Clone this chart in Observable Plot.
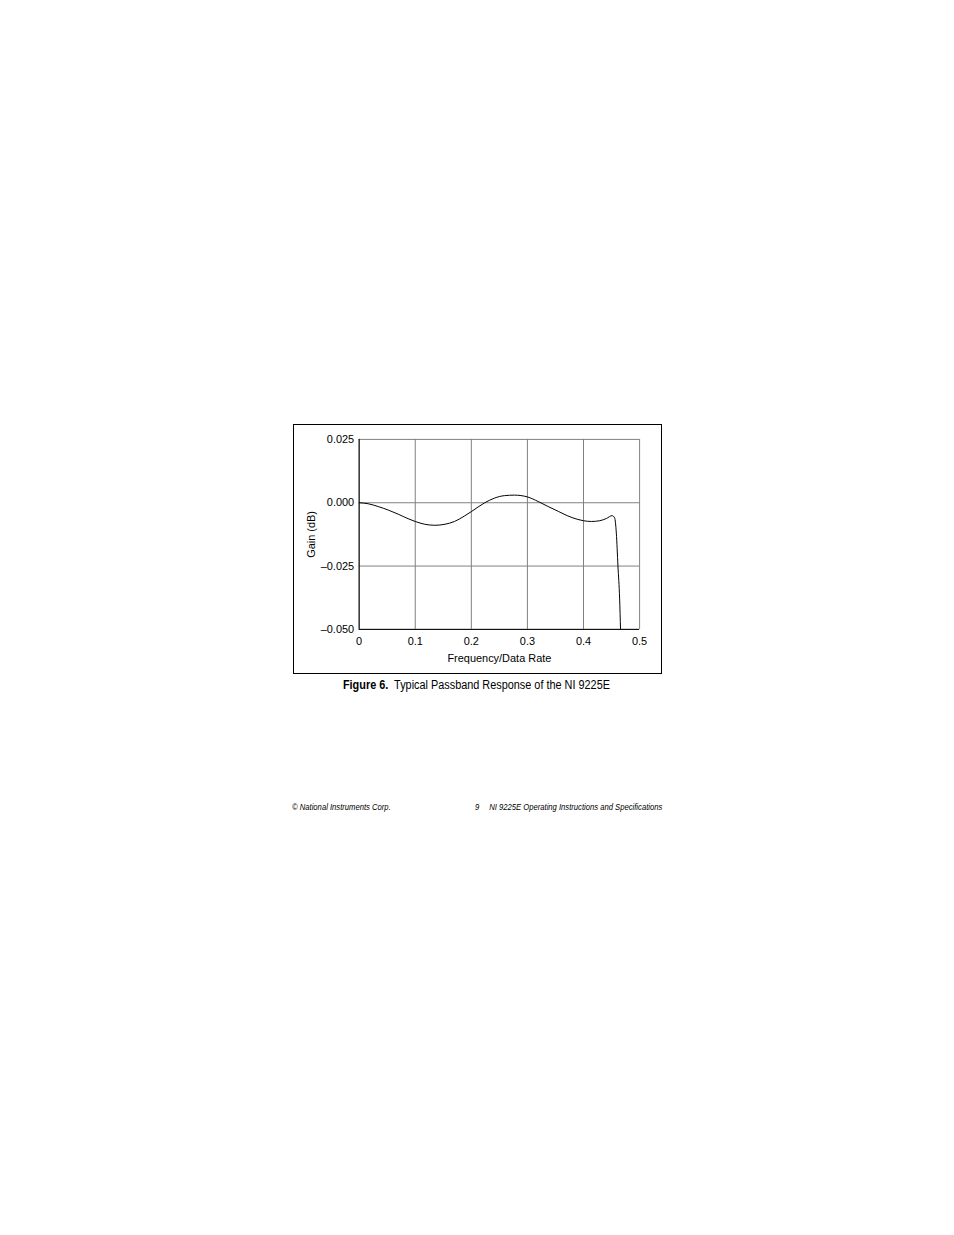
<!DOCTYPE html>
<html><head><meta charset="utf-8">
<script src="https://cdn.jsdelivr.net/npm/d3@7"></script>
<script src="https://cdn.jsdelivr.net/npm/@observablehq/plot@0.6"></script>
<style>
html,body{margin:0;padding:0;background:#fff;}
#page{position:relative;width:954px;height:1235px;background:#fff;overflow:hidden;}
#fig{position:absolute;left:293px;top:424px;width:369px;height:250px;box-sizing:border-box;border:1px solid #000;}
#fig svg{position:absolute;left:-1px;top:-1px;}
#cap{position:absolute;left:292px;width:369px;top:678px;text-align:center;font-family:"Liberation Sans",Arial,sans-serif;font-size:12.5px;color:#000;white-space:nowrap;}
#cap span{display:inline-block;transform:scaleX(0.87);transform-origin:center;}
#cap b{font-weight:bold;}
.foot{position:absolute;top:802px;font-family:"Liberation Sans",Arial,sans-serif;font-style:italic;font-size:8.5px;color:#000;white-space:pre;transform:scaleX(0.9);}
</style></head><body>
<div id="page">
  <div id="fig"></div>
  <div id="cap"><span><b>Figure 6.</b>&nbsp; Typical Passband Response of the NI 9225E</span></div>
  <div class="foot" style="left:292px;transform-origin:left">© National Instruments Corp.</div>
  <div class="foot" style="left:475px;transform-origin:left">9</div>
  <div class="foot" style="right:292px;transform-origin:right">NI 9225E Operating Instructions and Specifications</div>
</div>
<script>
const freq = [0, 0.016, 0.034, 0.052, 0.0695, 0.0873, 0.1, 0.117, 0.135, 0.153, 0.17, 0.188, 0.2, 0.224, 0.241, 0.259, 0.277, 0.3, 0.319, 0.337, 0.355, 0.372, 0.39, 0.4, 0.414, 0.429, 0.441, 0.451, 0.4555, 0.4585, 0.4614, 0.4644, 0.466];
const gain = [0, -0.0004, -0.0015, -0.0029, -0.0045, -0.0063, -0.0074, -0.0085, -0.0089, -0.0085, -0.0074, -0.0052, -0.0035, 0, 0.0018, 0.0028, 0.003, 0.0023, 0.0005, -0.0015, -0.0034, -0.0052, -0.0066, -0.0071, -0.0074, -0.0071, -0.0062, -0.0051, -0.006, -0.012, -0.025, -0.038, -0.05];
const xTicks = [0, 0.1, 0.2, 0.3, 0.4, 0.5];
const yTicks = [0.025, 0, -0.025, -0.05];
const xTickLabels = ["0", "0.1", "0.2", "0.3", "0.4", "0.5"];
const yTickLabels = ["0.025", "0.000", "\u20130.025", "\u20130.050"];

const data = freq.map((f, i) => ({f, g: gain[i]}));

const chart = Plot.plot({
  width: 369,
  height: 250,
  marginLeft: 66,
  marginRight: 21,
  marginTop: 15,
  marginBottom: 44,
  style: {fontFamily: "'Liberation Sans', Arial, sans-serif", fontSize: "11px", color: "#000", background: "transparent"},
  x: {domain: [0, 0.5]},
  y: {domain: [-0.05, 0.025]},
  marks: [
    Plot.ruleX(xTicks, {stroke: "#808080", strokeWidth: 1}),
    Plot.ruleY(yTicks, {stroke: "#808080", strokeWidth: 1}),
    Plot.ruleX([0], {stroke: "#000", strokeWidth: 1}),
    Plot.ruleY([-0.05], {stroke: "#000", strokeWidth: 1}),
    Plot.line(data, {x: "f", y: "g", curve: "monotone-x", stroke: "#000", strokeWidth: 1, clip: true}),
    Plot.axisX({ticks: xTicks, tickSize: 0, tickPadding: 8, tickFormat: (d, i) => xTickLabels[i], label: "Frequency/Data Rate", labelAnchor: "center", labelArrow: "none", labelOffset: 33, fontSize: 11}),
    Plot.axisY({ticks: yTicks, tickSize: 0, tickPadding: 5, tickFormat: (d, i) => yTickLabels[i], label: "Gain (dB)", labelAnchor: "center", labelArrow: "none", labelOffset: 52, fontSize: 11})
  ]
});
document.getElementById("fig").appendChild(chart);
</script>
</body></html>
